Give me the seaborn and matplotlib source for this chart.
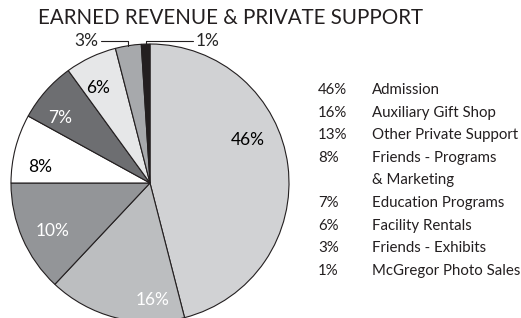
import numpy as np
import matplotlib
matplotlib.use("Agg")
import matplotlib.pyplot as plt
import seaborn as sns

# data
categories = ["Admission", "Auxiliary Gift Shop", "Other Private Support",
              "Friends - Programs\n& Marketing", "Education Programs",
              "Facility Rentals", "Friends - Exhibits", "McGregor Photo Sales"]
shares = [46, 16, 13, 8, 7, 6, 3, 1]
slice_labels = ["46%", "16%", "10%", "8%", "7%", "6%", "3%", "1%"]
legend_pcts = ["46%", "16%", "13%", "8%", "7%", "6%", "3%", "1%"]

colors = ["#d1d2d4", "#bcbec0", "#939598", "#ffffff",
          "#6d6e71", "#e6e7e8", "#a7a9ac", "#231f20"]
text_colors = ["black", "white", "white", "black", "white", "black"]
# where each inside label sits: fraction across the wedge (from clockwise end), radius
label_frac = [0.60, 0.77, 0.56, 0.71, 0.72, 0.65]
label_rad = [0.77, 0.84, 0.78, 0.80, 0.80, 0.78]

sns.set_theme(style="white")
plt.rcParams["font.family"] = ["Lato", "DejaVu Sans"]

W, H = 521, 318
fig = plt.figure(figsize=(W / 100, H / 100), dpi=100)
ax = fig.add_axes([0, 0, 1, 1])

ax.pie(shares, colors=colors, startangle=90, counterclock=False,
       wedgeprops=dict(edgecolor="#231f20", linewidth=0.8), radius=1.0)

# pie centre and radius in pixels
cx, cy, R = 150, 183, 139
ax.set_xlim(-cx / R, (W - cx) / R)
ax.set_ylim(-(H - cy) / R, cy / R)
ax.set_aspect("equal")
ax.axis("off")

# angles of each wedge (deg, counter-clockwise from +x)
total = float(sum(shares))
cum = np.concatenate([[0], np.cumsum(shares)])
a_start = 90 - cum[:-1] / total * 360
a_end = 90 - cum[1:] / total * 360

for i in range(6):
    ang = np.deg2rad(a_end[i] + label_frac[i] * (a_start[i] - a_end[i]))
    r = label_rad[i]
    ax.text(r * np.cos(ang), r * np.sin(ang), slice_labels[i], color=text_colors[i],
            fontsize=12.5, ha="center", va="center")

# leader lines for the two small slices
y_line = 1.025
for i, side in [(6, -1), (7, 1)]:
    mid = np.deg2rad((a_start[i] + a_end[i]) / 2)
    x0, y0 = np.cos(mid), np.sin(mid)
    x1 = side * (0.35 if side < 0 else 0.31)
    ax.plot([x0, x0, x1], [y0, y_line, y_line], color="#231f20", lw=0.8)
    ax.text(x1 + side * 0.02, y_line, slice_labels[i], fontsize=12.5,
            ha="right" if side < 0 else "left", va="center")

fig.text(231 / W, 1 - 18 / H, "EARNED REVENUE & PRIVATE SUPPORT",
         fontsize=14.8, ha="center", va="center", color="#231f20")

# legend as text columns
line = 0
for pct, name in zip(legend_pcts, categories):
    y = 1 - (90 + 22.6 * line) / H
    fig.text(318 / W, y, pct, fontsize=10.8, ha="left", va="center", color="#231f20")
    for j, part in enumerate(name.split("\n")):
        yy = 1 - (90 + 22.6 * (line + j)) / H
        fig.text(372 / W, yy, part, fontsize=10.8, ha="left", va="center", color="#231f20")
    line += len(name.split("\n"))

fig.savefig("out.png", dpi=100, facecolor="white")
